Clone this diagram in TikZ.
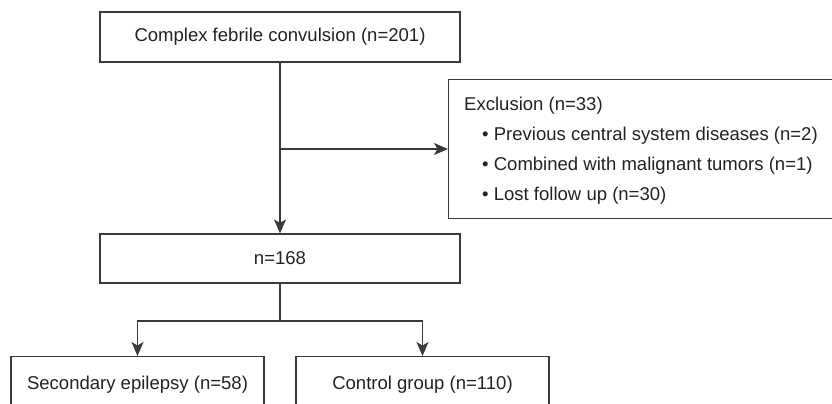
\documentclass[tikz,border=0pt]{standalone}
\usepackage{fontspec}
\setmainfont{Liberation Sans}
\usetikzlibrary{arrows.meta}
\definecolor{linec}{HTML}{3A3A3A}
\definecolor{textc}{HTML}{222222}
\tikzset{
  box/.style={draw=linec, line width=1.2bp, rectangle, inner sep=0pt, text=textc, font=\fontsize{18.6}{22}\selectfont},
  conn/.style={draw=linec, line width=1.2bp},
  arr/.style={conn, -{Stealth[length=14bp,width=12bp,inset=3.5bp]}},
  txt/.style={text=textc, font=\fontsize{18.6}{22}\selectfont, inner sep=0pt}
}
\begin{document}
\begin{tikzpicture}[x=1bp,y=-1bp]
\useasboundingbox (0,0) rectangle (832,403);
\clip (0,0) rectangle (832,403);
\node[box, minimum width=360bp, minimum height=50bp] (top) at (280,37) {Complex febrile convulsion (n=201)};
\node[box, minimum width=402bp, minimum height=139bp, anchor=north west] (excl) at (448,79) {};
\node[txt, anchor=base west] (e0) at (464,110) {Exclusion (n=33)};
\node[txt, anchor=base west] (e1) at (482,140) {\textbullet\ Previous central system diseases (n=2)};
\node[txt, anchor=base west] (e2) at (482,170) {\textbullet\ Combined with malignant tumors (n=1)};
\node[txt, anchor=base west] (e3) at (482,200) {\textbullet\ Lost follow up (n=30)};
\node[box, minimum width=360bp, minimum height=49bp] (mid) at (280,258.5) {n=168};
\node[box, minimum width=253bp, minimum height=60bp, anchor=north] (sec) at (137.5,356) {};
\node[txt] (sect) at (137.5,385) {Secondary epilepsy (n=58)};
\node[box, minimum width=253bp, minimum height=60bp, anchor=north] (ctl) at (422.5,356) {};
\node[txt] (ctlt) at (422.5,385) {Control group (n=110)};
\coordinate (branch) at (280,149);
\coordinate (split) at (280,321);
\draw[arr] (top.south) -- (mid.north);
\draw[arr] (branch) -- (branch -| excl.west);
\draw[conn] (mid.south) -- (split);
\draw[arr] (split) -| (sec.north);
\draw[arr] (split) -| (ctl.north);
\end{tikzpicture}
\end{document}
